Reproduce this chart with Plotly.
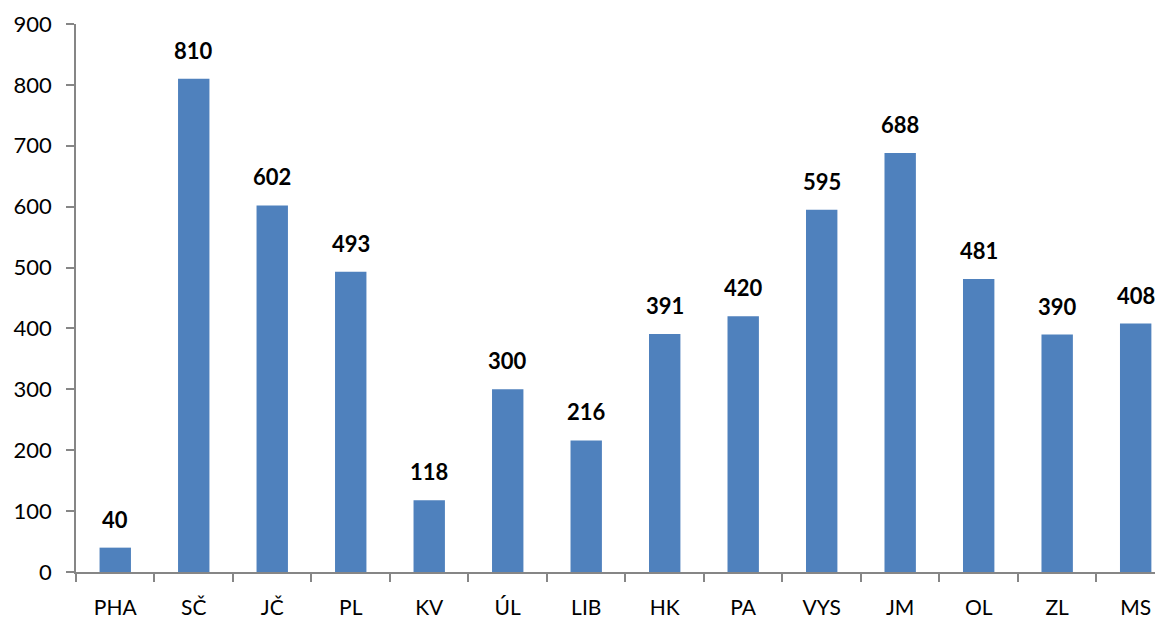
import plotly.graph_objects as go

regions = ["PHA", "SČ", "JČ", "PL", "KV", "ÚL", "LIB", "HK", "PA", "VYS", "JM", "OL", "ZL", "MS"]
values = [40, 810, 602, 493, 118, 300, 216, 391, 420, 595, 688, 481, 390, 408]
y_ticks = [0, 100, 200, 300, 400, 500, 600, 700, 800, 900]

FONT = "Lato, 'Open Sans', sans-serif"

fig = go.Figure(go.Bar(
    x=regions, y=values,
    marker=dict(color="#4F81BD", line=dict(width=0)),
    width=0.4,
))

for r, v in zip(regions, values):
    fig.add_annotation(x=r, y=v, text=f"<b>{v}</b>", showarrow=False,
                       yanchor="bottom", yshift=13,
                       font=dict(family=FONT, size=22, color="black"))

fig.update_layout(
    width=1163, height=618,
    margin=dict(l=68, r=0, t=16, b=54),
    plot_bgcolor="white", paper_bgcolor="white",
    showlegend=False,
    font=dict(family=FONT, size=21, color="black"),
)
fig.update_xaxes(
    range=[-0.5, 13.45],
    showline=True, linecolor="#868686", linewidth=1.5,
    ticks="outside", tickson="boundaries", ticklen=8, tickcolor="#868686", tickwidth=1.5,
    showgrid=False, tickfont=dict(size=21), ticklabelstandoff=16,
)
fig.update_yaxes(
    range=[0, 900], tickvals=y_ticks,
    showline=True, linecolor="#868686", linewidth=1.5,
    ticks="outside", ticklen=8, tickcolor="#868686", tickwidth=1.5,
    showgrid=False, zeroline=False, tickfont=dict(size=22), ticklabelstandoff=10,
)

fig.write_html("out.html")
